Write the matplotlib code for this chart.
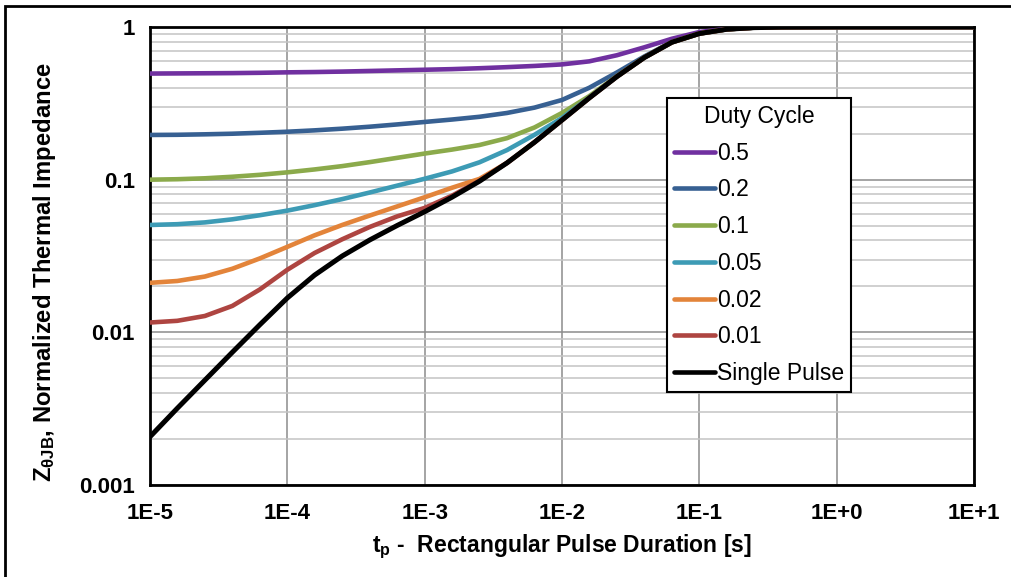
import numpy as np
import matplotlib
matplotlib.use("Agg")
import matplotlib.pyplot as plt
from matplotlib.ticker import LogLocator, FuncFormatter, FixedLocator, FixedFormatter, NullLocator
from matplotlib.patches import Rectangle

plt.rcParams['font.family'] = ['Liberation Sans', 'DejaVu Sans']
plt.rcParams['mathtext.fontset'] = 'custom'
plt.rcParams['mathtext.rm'] = 'Liberation Sans:bold'
plt.rcParams['mathtext.it'] = 'Liberation Sans:bold'
plt.rcParams['mathtext.bf'] = 'Liberation Sans:bold'

# pulse duration [s], 0.2 decade steps then 1 s, 10 s
TP = [1e-5, 1.58e-5, 2.51e-5, 3.98e-5, 6.31e-5,
      1e-4, 1.58e-4, 2.51e-4, 3.98e-4, 6.31e-4,
      1e-3, 1.58e-3, 2.51e-3, 3.98e-3, 6.31e-3,
      1e-2, 1.58e-2, 2.51e-2, 3.98e-2, 6.31e-2,
      1e-1, 1.58e-1, 2.51e-1, 3.98e-1, 1.0, 10.0]

D_05 = [0.4955, 0.4966, 0.4977, 0.4989, 0.5012, 0.5047, 0.5070, 0.5105, 0.5152, 0.5200,
        0.5248, 0.5297, 0.5370, 0.5458, 0.5559, 0.5689, 0.5957, 0.6531, 0.7362, 0.8375,
        0.9268, 0.9727, 0.9908, 0.9977, 1.0, 1.0]
D_02 = [0.1963, 0.1968, 0.1982, 0.2000, 0.2028, 0.2061, 0.2104, 0.2158, 0.2223, 0.2301,
        0.2388, 0.2477, 0.2582, 0.2735, 0.2965, 0.3327, 0.3999, 0.5035, 0.6412, 0.798,
        0.906, 0.966, 0.9908, 0.9977, 1.0, 1.0]
D_01 = [0.1000, 0.1007, 0.1021, 0.1045, 0.1076, 0.1117, 0.1167, 0.1227, 0.1303, 0.1390,
        0.1483, 0.1574, 0.1687, 0.1871, 0.2198, 0.2735, 0.3524, 0.4764, 0.6324, 0.7943,
        0.9057, 0.9660, 0.9908, 0.9977, 1.0, 1.0]
D_005 = [0.0505, 0.0511, 0.0525, 0.0550, 0.0585, 0.0627, 0.0681, 0.0746, 0.0824, 0.0914,
         0.1014, 0.1132, 0.1300, 0.1563, 0.1968, 0.2535, 0.3451, 0.4732, 0.6310, 0.7943,
         0.9057, 0.9660, 0.9908, 0.9977, 1.0, 1.0]
D_002 = [0.0211, 0.0217, 0.0232, 0.0261, 0.0305, 0.0363, 0.0432, 0.0505, 0.0582, 0.0668,
         0.0767, 0.0885, 0.1012, 0.1288, 0.1758, 0.2455, 0.3428, 0.4732, 0.6310, 0.7943,
         0.9057, 0.9660, 0.9908, 0.9977, 1.0, 1.0]
D_001 = [0.0116, 0.0119, 0.0128, 0.0149, 0.0191, 0.0257, 0.0331, 0.0407, 0.0490, 0.0575,
         0.0653, 0.0785, 0.0985, 0.1288, 0.1758, 0.2455, 0.3428, 0.4732, 0.6310, 0.7943,
         0.9057, 0.9660, 0.9908, 0.9977, 1.0, 1.0]
SINGLE = [0.00207, 0.00318, 0.00486, 0.00741, 0.01122, 0.01679, 0.02371, 0.03162, 0.04027, 0.05012,
          0.06166, 0.07674, 0.09772, 0.1288, 0.1758, 0.2455, 0.3428, 0.4732, 0.6310, 0.7943,
          0.9057, 0.9660, 0.9908, 0.9977, 1.0, 1.0]

SERIES = [
    ("0.5", D_05, "#7030A0"),
    ("0.2", D_02, "#376092"),
    ("0.1", D_01, "#8BAA4B"),
    ("0.05", D_005, "#3D9BB5"),
    ("0.02", D_002, "#E3843A"),
    ("0.01", D_001, "#AE4541"),
    ("Single Pulse", SINGLE, "#000000"),
]

Y_TICKS = [0.001, 0.01, 0.1, 1]
Y_TICK_LABELS = ["0.001", "0.01", "0.1", "1"]
X_TICKS = [1e-5, 1e-4, 1e-3, 1e-2, 1e-1, 1e0, 1e1]

fig = plt.figure(figsize=(10.12, 5.77), dpi=100)
ax = fig.add_axes([0.1482, 0.1594, 0.8142, 0.7938])

for label, vals, col in SERIES:
    lw = 3.6 if label == "Single Pulse" else 3.3
    ax.plot(TP, vals, color=col, lw=lw, label=label, solid_capstyle='round',
            solid_joinstyle='round', zorder=3)

ax.set_xscale('log')
ax.set_yscale('log')
ax.set_xlim(1e-5, 10)
ax.set_ylim(0.001, 1)

ax.xaxis.set_major_locator(FixedLocator(X_TICKS))
ax.xaxis.set_minor_locator(NullLocator())
ax.xaxis.set_major_formatter(FuncFormatter(lambda v, _: f"1E{int(round(np.log10(v))):+d}"))
ax.yaxis.set_major_locator(FixedLocator(Y_TICKS))
ax.yaxis.set_major_formatter(FixedFormatter(Y_TICK_LABELS))
ax.yaxis.set_minor_locator(LogLocator(base=10, subs=np.arange(2, 10)))

ax.grid(True, which='major', axis='both', color='#8c8c8c', lw=1.1, zorder=1)
ax.grid(True, which='minor', axis='y', color='#c4c4c4', lw=1.1, zorder=1)
ax.set_axisbelow(True)

ax.tick_params(which='both', length=0)
ax.tick_params(axis='y', pad=11, labelsize=16)
ax.tick_params(axis='x', pad=13, labelsize=16)
for lab in ax.get_xticklabels() + ax.get_yticklabels():
    lab.set_fontweight('bold')

for sp in ax.spines.values():
    sp.set_color('black')
    sp.set_linewidth(2)

ax.set_ylabel(r'Z$_{\mathrm{θJB}}$, Normalized Thermal Impedance', fontsize=17.2, fontweight='bold')
ax.yaxis.set_label_coords(-0.112, 0.465)
ax.set_xlabel(r't$_{\mathrm{p}}$ -  Rectangular Pulse Duration [s]', fontsize=16.5, fontweight='bold')
ax.xaxis.set_label_coords(0.5, -0.103)
ax.xaxis.label.set_va('top')

leg = ax.legend(title="Duty Cycle", loc='upper left', bbox_to_anchor=(0.6274, 0.845),
                borderaxespad=0, fontsize=16.5, title_fontsize=16.5, fancybox=False,
                framealpha=1, edgecolor='black', handlelength=1.8, handletextpad=0.08,
                labelspacing=0.6, borderpad=0.3)
leg.get_frame().set_linewidth(1.5)
for h in leg.get_lines():
    h.set_linewidth(3.3)
    h.set_solid_capstyle('round')
leg.set_zorder(5)

fig.add_artist(Rectangle((5 / 1012, -0.1), 1.2, (577 - 6) / 577 + 0.1,
                         transform=fig.transFigure, fill=False, ec='black', lw=2))

fig.savefig("out.png", dpi=100)
